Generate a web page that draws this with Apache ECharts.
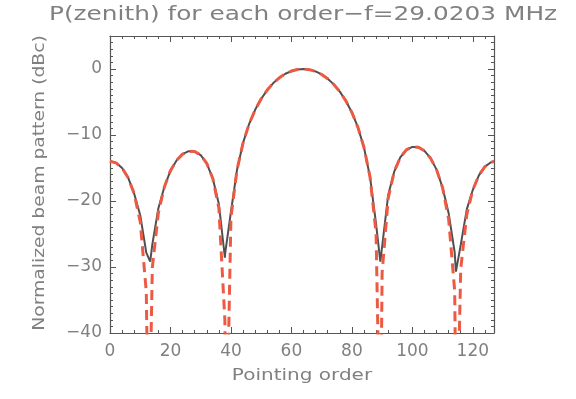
<!DOCTYPE html>
<html>
<head>
<meta charset="utf-8">
<script src="https://cdn.jsdelivr.net/npm/echarts@6/dist/echarts.min.js"></script>
<style>html,body{margin:0;padding:0;background:#fff}#c{width:576px;height:399px}</style>
</head>
<body>
<div id="c"></div>
<script>
// Pointing order samples
var xValues = [0,2,4,6,8,10,12,14,16,18,20,22,24,26,28,30,32,34,36,38,40,42,44,46,48,50,52,54,56,58,60,62,
  64,66,68,70,72,74,76,78,80,82,84,86,88,90,92,94,96,98,100,102,104,106,108,110,112,114,116,118,120,122,124,126,127];
// Dashed red curve (dBc)
var redValues = [-13.98,-14.22,-15.01,-16.47,-18.89,-23.14,-33.74,-30.09,-21.80,-17.85,-15.40,-13.85,-12.90,-12.45,-12.50,-13.05,-14.30,-16.60,-21.07,-38.09,-22.48,-15.29,-11.20,-8.34,-6.19,-4.52,-3.19,-2.14,-1.33,-0.72,-0.31,-0.07,
  0.00,-0.10,-0.37,-0.83,-1.47,-2.33,-3.43,-4.82,-6.58,-8.85,-11.89,-16.36,-24.91,-30.87,-19.60,-15.55,-13.40,-12.25,-11.80,-11.85,-12.40,-13.50,-15.25,-18.00,-22.74,-33.63,-30.26,-22.05,-18.30,-16.11,-14.80,-14.13,-14.00];
// Solid dark curve (dBc)
var blackValues = [-13.98,-14.22,-15.01,-16.47,-18.89,-22.16,-27.83,-26.57,-21.10,-17.85,-15.40,-13.85,-12.90,-12.45,-12.50,-13.05,-14.30,-16.60,-20.44,-28.60,-21.63,-15.29,-11.20,-8.34,-6.19,-4.52,-3.19,-2.14,-1.33,-0.72,-0.31,-0.07,
  0.00,-0.10,-0.37,-0.83,-1.47,-2.33,-3.43,-4.82,-6.58,-8.85,-11.89,-16.36,-23.52,-26.90,-19.10,-15.55,-13.40,-12.25,-11.80,-11.85,-12.40,-13.50,-15.25,-18.00,-21.84,-27.80,-26.64,-21.27,-18.30,-16.11,-14.80,-14.13,-14.00];
// Null positions of the dashed curve and their (off-scale) depths
var redNullX = [12.8, 38.4, 89.4, 114.6];
var redNullY = [-60, -60, -60, -60];
// Minima of the solid curve
var blackMinX = [13.3, 38.1, 89.4, 114.4];
var blackMinY = [-29.2, -27.9, -29.2, -30.7];
var xTicks = [0, 20, 40, 60, 80, 100, 120];
var yTicks = [-40, -30, -20, -10, 0];

function pairs(xs, ys, ex, ey) {
  var out = xs.map(function (x, i) { return [x, ys[i]]; });
  ex.forEach(function (x, i) { out.push([x, ey[i]]); });
  out.sort(function (a, b) { return a[0] - b[0]; });
  return out;
}

var chart = echarts.init(document.getElementById('c'), null, {renderer: 'canvas'});
var axisColor = '#555';
var textColor = '#808080';
var font = 'DejaVu Sans';
function xAx(pos, labels) {
  return {
    type: 'value', position: pos, min: 0, max: 127, interval: 20,
    axisLine: {show: true, onZero: false, lineStyle: {color: axisColor, width: 1.2}},
    axisTick: {show: true, inside: true, length: 6, lineStyle: {color: axisColor}},
    minorTick: {show: true, splitNumber: 5, length: 3, lineStyle: {color: axisColor}},
    splitLine: {show: false},
    axisLabel: {show: labels, color: textColor, fontSize: 17, fontFamily: font, margin: 10,
      formatter: function (v) { return xTicks.indexOf(v) >= 0 ? String(v) : ''; }}
  };
}
function yAx(pos, labels) {
  return {
    type: 'value', position: pos, min: -40, max: 5, interval: 10,
    axisLine: {show: true, onZero: false, lineStyle: {color: axisColor, width: 1.2}},
    axisTick: {show: true, inside: true, length: 6, lineStyle: {color: axisColor}},
    minorTick: {show: true, splitNumber: 10, length: 3, lineStyle: {color: axisColor}},
    splitLine: {show: false},
    axisLabel: {show: labels, color: textColor, fontSize: 17, fontFamily: font, margin: 8,
      formatter: function (v) { return yTicks.indexOf(v) >= 0 ? String(v).replace('-', '\u2212') : ''; }}
  };
}

chart.setOption({
  animation: false,
  backgroundColor: '#fff',
  grid: {left: 110, right: 82, top: 36, bottom: 66},
  xAxis: [xAx('bottom', true), xAx('top', false)],
  yAxis: [yAx('left', true), yAx('right', false)],
  graphic: [
    {type: 'text', x: 303, y: 15, scaleX: 1.24, style: {text: 'P(zenith) for each order\u2212f=29.0203 MHz',
      fill: textColor, font: '20px "DejaVu Sans"', textAlign: 'center', textVerticalAlign: 'middle'}},
    {type: 'text', x: 302, y: 376, scaleX: 1.25, style: {text: 'Pointing order',
      fill: textColor, font: '16px "DejaVu Sans"', textAlign: 'center', textVerticalAlign: 'middle'}},
    {type: 'text', x: 40, y: 183, rotation: Math.PI / 2, scaleX: 1.17, style: {text: 'Normalized beam pattern (dBc)',
      fill: textColor, font: '16px "DejaVu Sans"', textAlign: 'center', textVerticalAlign: 'middle'}}
  ],
  series: [
    {type: 'line', name: 'solid', data: pairs(xValues, blackValues, blackMinX, blackMinY),
      showSymbol: false, symbol: 'none', clip: true,
      lineStyle: {color: '#505050', width: 2}},
    {type: 'line', name: 'dashed', data: pairs(xValues, redValues, redNullX, redNullY),
      showSymbol: false, symbol: 'none', clip: true,
      lineStyle: {color: '#ec5a44', width: 3, type: [10, 6]}}
  ]
});
</script>
</body>
</html>
